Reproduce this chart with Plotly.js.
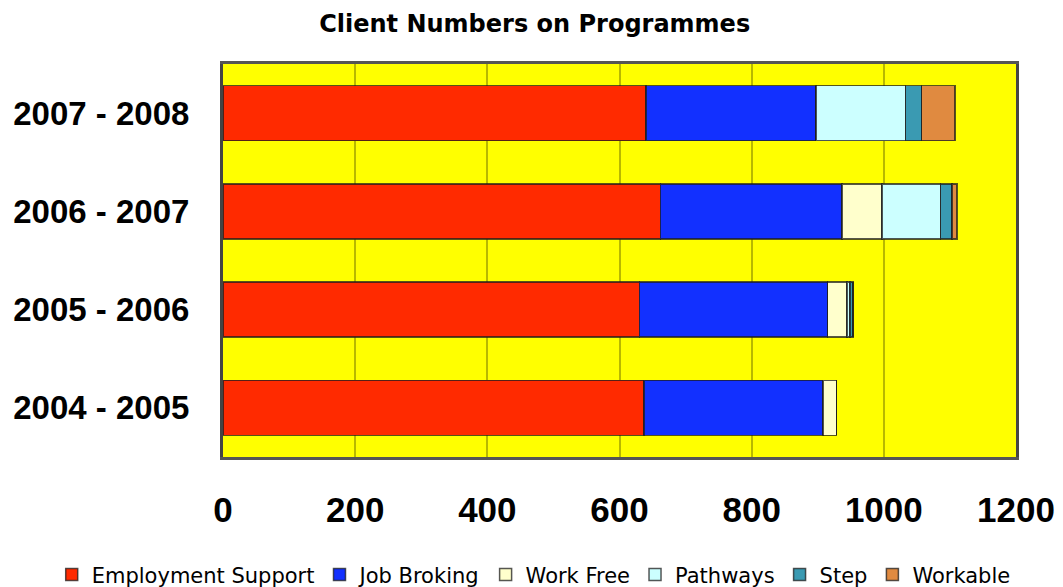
<!DOCTYPE html>
<html>
<head>
<meta charset="utf-8">
<script src="https://cdn.plot.ly/plotly-3.0.1.min.js"></script>
<style>html,body{margin:0;padding:0;background:#fff;}#chart{width:1063px;height:587px;}</style>
</head>
<body>
<div id="chart"></div>
<script>
const years = ["2004 - 2005", "2005 - 2006", "2006 - 2007", "2007 - 2008"];
const employmentSupport = [637, 630, 662, 640];
const jobBroking = [271, 285, 275, 257];
const workFree = [20, 29, 60, 0];
const pathways = [0, 5, 89, 136];
const step = [0, 4, 17, 24];
const workable = [0, 0, 8, 51];
const seriesNames = ["Employment Support", "Job Broking", "Work Free", "Pathways", "Step", "Workable"];
const seriesColors = ["#FF2A00", "#1230FF", "#FFFFCC", "#CCFFFF", "#3A9AB2", "#E08A40"];
const xTicks = [0, 200, 400, 600, 800, 1000, 1200];

const seriesValues = [employmentSupport, jobBroking, workFree, pathways, step, workable];
const traces = seriesValues.map((vals, i) => ({
  type: "bar",
  orientation: "h",
  name: seriesNames[i],
  y: years,
  x: vals,
  width: 0.56,
  marker: {color: seriesColors[i], line: {color: "rgba(30,30,30,0.75)", width: 1.5}},
  hoverinfo: "x+name"
}));

const layout = {
  width: 1063, height: 587,
  paper_bgcolor: "#ffffff",
  plot_bgcolor: "#FFFF00",
  barmode: "stack",
  margin: {l: 223, r: 47, t: 64, b: 130, autoexpand: false},
  title: {
    text: "<b>Client Numbers on Programmes</b>",
    font: {family: "DejaVu Sans, sans-serif", size: 24, color: "#000"},
    x: 0.503, xref: "container", xanchor: "center",
    y: 0.96, yref: "container", yanchor: "middle"
  },
  xaxis: {
    range: [0, 1200],
    tickvals: xTicks,
    ticktext: xTicks.map(String),
    tickfont: {family: "Liberation Sans, Arial, sans-serif", size: 35, color: "#000", weight: "bold"},
    tickangle: 0,
    showgrid: true, gridcolor: "#B8B800", gridwidth: 2,
    zeroline: false,
    showline: true, linecolor: "#555", linewidth: 3, mirror: true,
    ticks: "", ticklabelstandoff: 20
  },
  yaxis: {
    type: "category",
    categoryorder: "array",
    categoryarray: years,
    range: [-0.5, 3.5],
    tickfont: {family: "Liberation Sans, Arial, sans-serif", size: 33, color: "#000", weight: "bold"},
    showgrid: false, zeroline: false,
    showline: true, linecolor: "#444", linewidth: 3, mirror: true,
    ticks: "", ticklabelstandoff: 24
  },
  legend: {
    orientation: "h",
    x: -0.216, xref: "paper", xanchor: "left",
    y: -0.30, yref: "paper", yanchor: "middle",
    font: {family: "DejaVu Sans, sans-serif", size: 21, color: "#000"},
    traceorder: "normal",
    itemwidth: 30,
    tracegroupgap: 0
  },
  showlegend: true
};

Plotly.newPlot("chart", traces, layout, {displayModeBar: false, staticPlot: true});
</script>
</body>
</html>
